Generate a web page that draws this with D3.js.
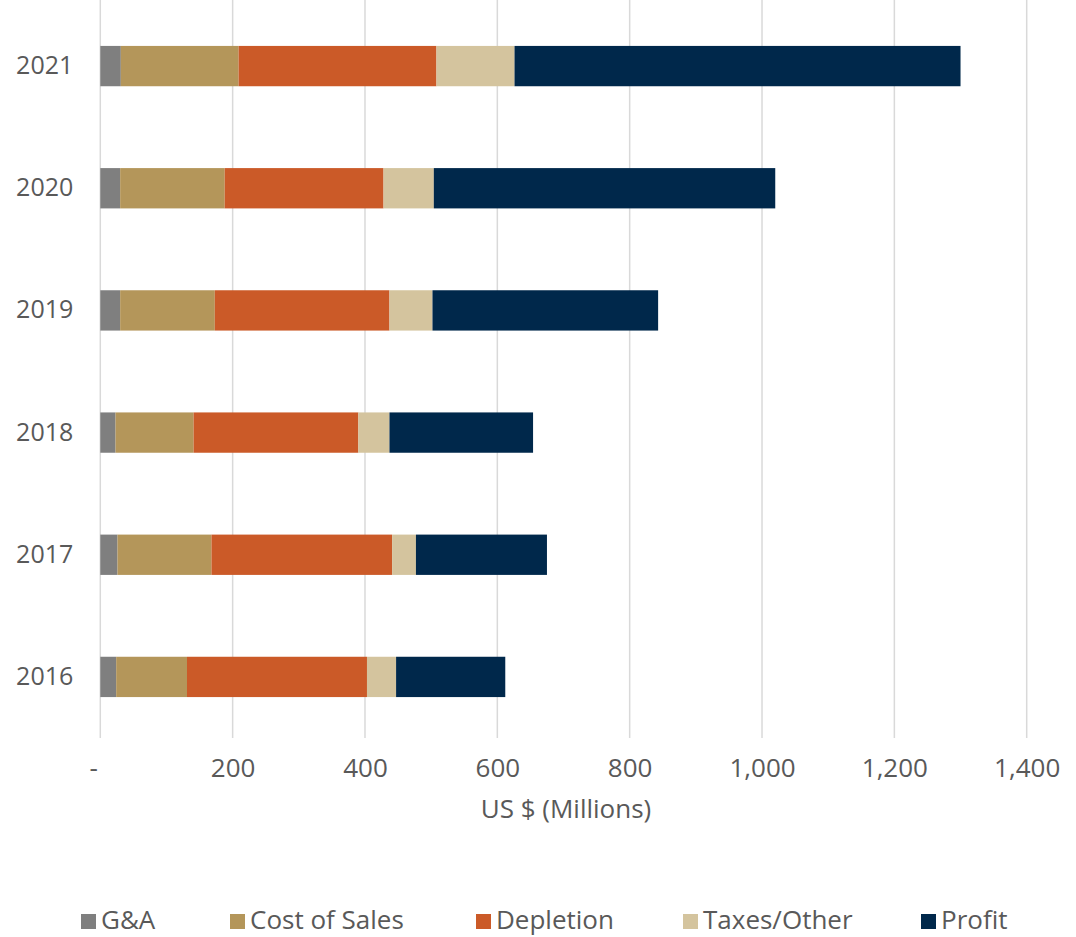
<!DOCTYPE html>
<html>
<head>
<meta charset="utf-8">
<script src="https://cdn.jsdelivr.net/npm/d3@7"></script>
<style>
  html, body { margin: 0; padding: 0; background: #fff; }
  svg text { font-family: "Open Sans", Lato, sans-serif; font-weight: 400; fill: #595959; }
</style>
</head>
<body>
<svg id="chart" width="1076" height="937"></svg>
<script>
// Revenue breakdown per year, US$ millions
const years = ["2021", "2020", "2019", "2018", "2017", "2016"];
const seriesNames = ["G&A", "Cost of Sales", "Depletion", "Taxes/Other", "Profit"];
const seriesColors = ["#7f7f7f", "#b4965a", "#cb5a28", "#d4c49e", "#00284b"];
const gaValues       = [31, 30, 30, 23, 26, 24];
const costValues     = [178, 158, 143, 118, 142, 107];
const depletionValues= [299, 240, 264, 249, 273, 272];
const taxesValues    = [118, 76, 65, 47, 36, 44];
const profitValues   = [674, 516, 341, 217, 198, 165];
const xTicks = [0, 200, 400, 600, 800, 1000, 1200, 1400];

const svg = d3.select("#chart");
const margin = { left: 100.3, right: 49.3, top: 5, bottom: 199 };
const W = 1076, H = 937;
const innerW = W - margin.left - margin.right;
const innerH = H - margin.top - margin.bottom;

const rows = years.map((y, i) => ({
  year: y,
  "G&A": gaValues[i],
  "Cost of Sales": costValues[i],
  "Depletion": depletionValues[i],
  "Taxes/Other": taxesValues[i],
  "Profit": profitValues[i]
}));

const x = d3.scaleLinear().domain([0, 1400]).range([0, innerW]);
const y = d3.scaleBand().domain(years).range([0, innerH]).paddingInner(0.67).paddingOuter(0.335);
const color = d3.scaleOrdinal().domain(seriesNames).range(seriesColors);

const g = svg.append("g").attr("transform", `translate(${margin.left},${margin.top})`);

// vertical gridlines
g.append("g").selectAll("line").data(xTicks).join("line")
  .attr("x1", d => x(d)).attr("x2", d => x(d))
  .attr("y1", -5).attr("y2", innerH)
  .attr("stroke", "#d9d9d9").attr("stroke-width", 1.5);

// stacked bars
const stacked = d3.stack().keys(seriesNames)(rows);
g.append("g").selectAll("g").data(stacked).join("g")
  .attr("fill", d => color(d.key))
  .selectAll("rect").data(d => d).join("rect")
  .attr("x", d => x(d[0]))
  .attr("width", d => x(d[1]) - x(d[0]))
  .attr("y", d => y(d.data.year))
  .attr("height", y.bandwidth());

// category labels
const yAxis = g.append("g").call(d3.axisLeft(y).tickSize(0).tickPadding(27));
yAxis.select(".domain").remove();
yAxis.selectAll("text").attr("font-size", 25).style("font-family", "'Open Sans', sans-serif").attr("fill", "#595959");

// value axis labels
const xAxis = g.append("g").attr("transform", `translate(0,${innerH})`)
  .call(d3.axisBottom(x).tickValues(xTicks).tickSize(0).tickPadding(21)
    .tickFormat(d => d === 0 ? "-" : d3.format(",")(d)));
xAxis.select(".domain").remove();
xAxis.selectAll("text").attr("font-size", 26).style("font-family", "'Open Sans', sans-serif").attr("fill", "#595959")
  .attr("dx", d => d === 0 ? -7 : 0);

// axis title
svg.append("text")
  .attr("x", 566).attr("y", 818)
  .attr("text-anchor", "middle")
  .attr("font-size", 26)
  .text("US $ (Millions)");

// legend
const legendX = [81, 230, 476, 683, 921];
const legend = svg.append("g").selectAll("g").data(seriesNames).join("g")
  .attr("transform", (d, i) => `translate(${legendX[i]},914)`);
legend.append("rect").attr("width", 15).attr("height", 15).attr("fill", d => color(d));
legend.append("text").attr("x", 20).attr("y", 15).attr("font-size", 26).text(d => d);
</script>
</body>
</html>
